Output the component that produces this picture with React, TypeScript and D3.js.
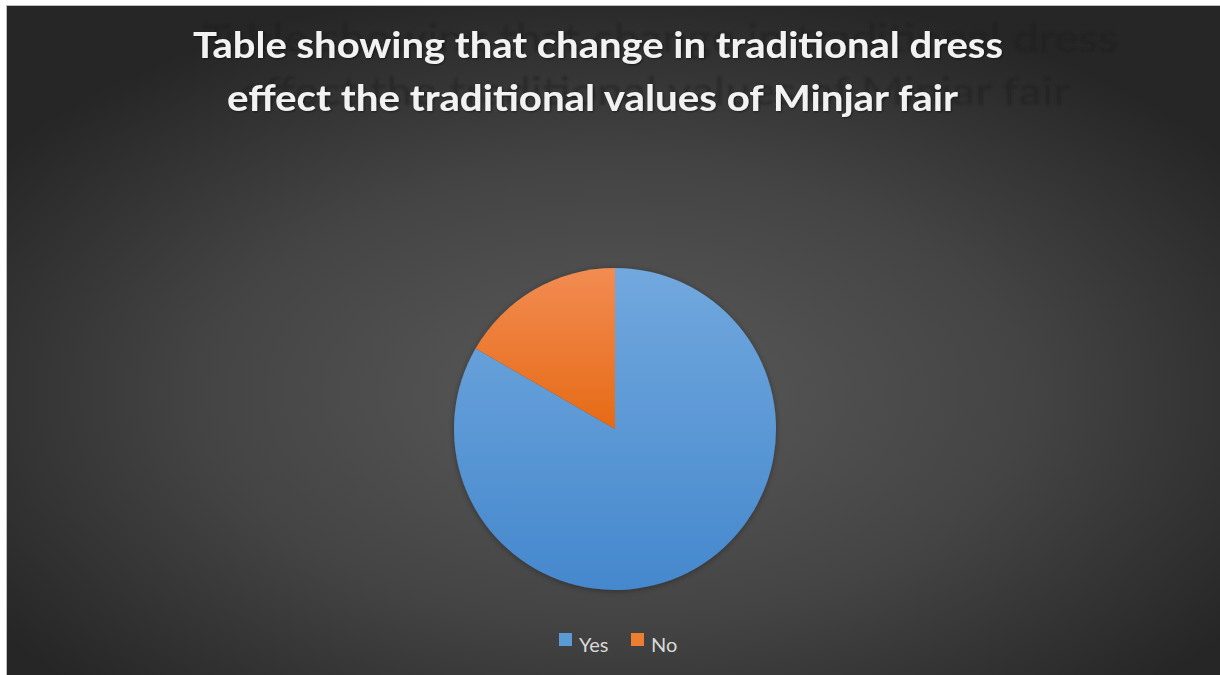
import React, { useEffect } from "react";
import * as d3 from "d3";

const categories = ["Yes", "No"];
const values = [50, 10];
const titleLines = [
  "Table showing that change in traditional dress",
  "effect the traditional values of Minjar fair",
];

const W = 1220;
const H = 675;

export default function App() {
  useEffect(() => {
    document.body.style.margin = "0";
  }, []);

  const cx = 615;
  const cy = 429;
  const r = 161;

  const pie = d3
    .pie<number>()
    .sort(null)
    .value((d) => d);
  const arcs = pie(values);
  const arcGen = d3.arc<d3.PieArcDatum<number>>().innerRadius(0).outerRadius(r);

  const color = d3
    .scaleOrdinal<string, string>()
    .domain(categories)
    .range(["url(#gYes)", "url(#gNo)"]);
  const swatch = d3
    .scaleOrdinal<string, string>()
    .domain(categories)
    .range(["#5b9bd5", "#ed7d31"]);

  const font = "Lato, 'Open Sans', 'DejaVu Sans', sans-serif";

  const legendX = d3.scalePoint<string>().domain(categories).range([559, 631]);

  return (
    <svg width={W} height={H} style={{ display: "block" }}>
      <defs>
        <radialGradient id="bg" cx="50%" cy="58%" r="62%" fx="50%" fy="58%">
          <stop offset="0%" stopColor="#5a5a5a" />
          <stop offset="55%" stopColor="#444444" />
          <stop offset="100%" stopColor="#262626" />
        </radialGradient>
        <linearGradient id="gYes" gradientUnits="objectBoundingBox" x1="0" y1="0" x2="0" y2="1">
          <stop offset="0%" stopColor="#71a8de" />
          <stop offset="100%" stopColor="#4588cd" />
        </linearGradient>
        <linearGradient id="gNo" gradientUnits="objectBoundingBox" x1="0" y1="0" x2="0" y2="1">
          <stop offset="0%" stopColor="#f28c52" />
          <stop offset="100%" stopColor="#e66a15" />
        </linearGradient>
        <filter id="blur" x="-10%" y="-10%" width="120%" height="120%">
          <feGaussianBlur stdDeviation="1.2" />
        </filter>
        <filter id="pieShadow" x="-20%" y="-20%" width="140%" height="140%">
          <feGaussianBlur in="SourceAlpha" stdDeviation="3" />
          <feOffset dx="0" dy="1" result="b" />
          <feComponentTransfer>
            <feFuncA type="linear" slope="0.35" />
          </feComponentTransfer>
          <feMerge>
            <feMergeNode />
            <feMergeNode in="SourceGraphic" />
          </feMerge>
        </filter>
        <filter id="txtShadow" x="-5%" y="-20%" width="110%" height="140%">
          <feGaussianBlur in="SourceAlpha" stdDeviation="1" />
          <feOffset dx="1" dy="1" />
          <feComponentTransfer>
            <feFuncA type="linear" slope="0.5" />
          </feComponentTransfer>
          <feMerge>
            <feMergeNode />
            <feMergeNode in="SourceGraphic" />
          </feMerge>
        </filter>
      </defs>
      <rect x={0} y={0} width={W} height={H} fill="#ffffff" />
      <rect x={6} y={5} width={W - 6} height={H - 5} fill="#bdbdbd" />
      <rect x={7} y={6} width={W - 7} height={H - 6} fill="url(#bg)" />

      {/* ghost reflection of title */}
      <g filter="url(#blur)" opacity={0.45}>
        <text x={203} y={52} fontFamily={font} fontSize={38} fill="#1e1e1e"
          textLength={915} lengthAdjust="spacingAndGlyphs">
          {titleLines[0]}
        </text>
        <text x={240} y={105} fontFamily={font} fontSize={38} fill="#1e1e1e"
          textLength={830} lengthAdjust="spacingAndGlyphs">
          {titleLines[1]}
        </text>
      </g>

      <g filter="url(#txtShadow)">
        <text x={193} y={58} fontFamily={font} fontWeight={700} fontSize={36} fill="#f2f2f2"
          textLength={810} lengthAdjust="spacingAndGlyphs">
          {titleLines[0]}
        </text>
        <text x={227} y={111} fontFamily={font} fontWeight={700} fontSize={36} fill="#f2f2f2"
          textLength={731} lengthAdjust="spacingAndGlyphs">
          {titleLines[1]}
        </text>
      </g>

      <g transform={`translate(${cx},${cy})`} filter="url(#pieShadow)">
        {arcs.map((a, i) => (
          <path key={categories[i]} d={arcGen(a) || ""} fill={color(categories[i])} />
        ))}
      </g>

      <g>
        {categories.map((c) => (
          <g key={c}>
            <rect x={legendX(c)} y={633} width={13} height={13} fill={swatch(c)} />
            <text x={(legendX(c) as number) + 20} y={652} fontFamily={font} fontSize={20} fill="#d9d9d9">
              {c}
            </text>
          </g>
        ))}
      </g>
    </svg>
  );
}
